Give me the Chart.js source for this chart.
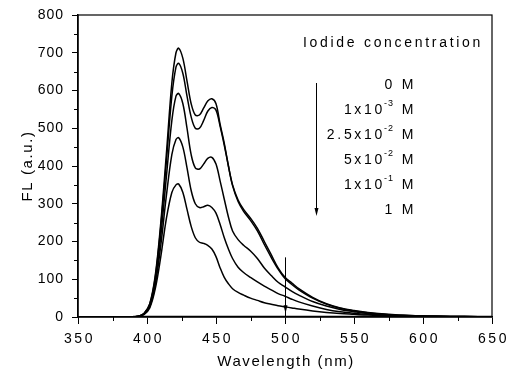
<!DOCTYPE html>
<html>
<head>
<meta charset="utf-8">
<script src="https://cdn.jsdelivr.net/npm/chart.js@4/dist/chart.umd.min.js"></script>
<style>
html,body{margin:0;padding:0;background:#fff;}
canvas{display:block;}
</style>
</head>
<body>
<canvas id="c" width="508" height="377"></canvas>
<script>
// Wavelength sample points (nm)
const wavelengths = [390,394,398,402,406,410,414,418,421,423,426,429,432,435,438,441,444,447,450,453,456,459,462,466,470,475,480,485,490,495,500,505,510,520,530,540,550,560,575,590,610,630,650];

// FL intensity (a.u.) per iodide concentration
const fl_0M      = [0,2,10,35,110,250,430,620,700,712,685,625,565,535,535,553,572,578,565,510,460,400,350,310,285,262,235,200,165,130,105,90,75,52,35,24,17,12,7,4,2,1,0];
const fl_1e3M    = [0,2,10,34,105,240,410,585,662,672,645,585,530,500,500,520,545,555,548,505,455,400,348,306,280,256,228,192,158,127,102,86,72,50,34,23,16,11,6,4,2,1,0];
const fl_2_5e2M  = [0,2,9,30,95,215,370,520,585,592,565,500,430,395,392,405,420,423,405,360,312,265,228,205,190,175,155,130,110,92,80,68,58,41,29,20,14,9,5,3,2,1,0];
const fl_5e2M    = [0,2,8,27,85,190,320,430,470,475,450,395,335,300,290,292,296,290,275,245,210,180,155,132,118,105,93,82,72,62,55,47,40,29,20,14,10,7,4,2,1,0,0];
const fl_1e1M    = [0,2,7,24,75,160,260,330,350,352,330,285,240,210,198,195,190,180,160,130,105,88,75,65,58,50,44,38,34,30,27,24,21,16,12,9,7,5,3,2,1,0,0];
const fl_1M      = [0,0,0,0,0,0,0,0,0,0,0,0,0,0,0,0,0,0,0,0,0,0,0,0,0,0,0,0,0,0,0,0,0,0,0,0,0,0,0,0,0,0,0];

const seriesNames = ['0 M','1x10^-3 M','2.5x10^-2 M','5x10^-2 M','1x10^-1 M','1 M'];
const seriesValues = [fl_0M, fl_1e3M, fl_2_5e2M, fl_5e2M, fl_1e1M, fl_1M];

// Axis ticks
const xTicks = [350,400,450,500,550,600,650];
const xMinorTicks = [375,425,475,525,575,625];
const yTicks = [0,100,200,300,400,500,600,700,800];
const yMinorTicks = [50,150,250,350,450,550,650,750];

// Texts
const xTitle = 'Wavelength (nm)';
const yTitle = 'FL (a.u.)';
const legendTitle = 'Iodide concentration';
const legendBase = ['0','1x10','2.5x10','5x10','1x10','1'];
const legendExp  = ['','-3','-2','-2','-1',''];
const legendUnit = ' M';

// Arrow annotation at 500 nm
const arrowX = 500, arrowFrom = 158, arrowTo = 15;

const FONT = '"Liberation Sans", Arial, Helvetica, sans-serif';

const datasets = seriesValues.map((vals, i) => ({
  label: seriesNames[i],
  data: wavelengths.map((w, j) => ({x: w, y: vals[j]})),
  borderColor: '#000',
  borderWidth: i === 5 ? 2.5 : 1.5,
  pointRadius: 0,
  tension: 0.35,
  fill: false
}));

const deco = {
  id: 'deco',
  afterDraw(chart) {
    const {ctx, chartArea: a, scales: {x, y}} = chart;
    ctx.save();
    ctx.strokeStyle = '#000';
    ctx.fillStyle = '#000';
    // frame
    ctx.lineWidth = 1.2;
    ctx.strokeRect(a.left, a.top, a.right - a.left, a.bottom - a.top);
    // minor ticks
    ctx.lineWidth = 1;
    ctx.beginPath();
    yMinorTicks.forEach(v => {
      const py = Math.round(y.getPixelForValue(v)) + 0.5;
      ctx.moveTo(a.left - 4, py); ctx.lineTo(a.left, py);
    });
    xMinorTicks.forEach(v => {
      const px = Math.round(x.getPixelForValue(v)) + 0.5;
      ctx.moveTo(px, a.bottom); ctx.lineTo(px, a.bottom + 4);
    });
    ctx.stroke();

    // tick labels
    ctx.textBaseline = 'middle';
    ctx.font = '14px ' + FONT;
    ctx.letterSpacing = '1px';
    ctx.textAlign = 'right';
    yTicks.forEach(v => ctx.fillText(String(v), 64, y.getPixelForValue(v)));
    ctx.letterSpacing = '2.5px';
    ctx.textAlign = 'center';
    xTicks.forEach(v => ctx.fillText(String(v), x.getPixelForValue(v) + 1.5, 339));

    // axis titles
    ctx.font = '15px ' + FONT;
    ctx.letterSpacing = '1.6px';
    ctx.textAlign = 'center';
    ctx.fillText(xTitle, (a.left + a.right) / 2 + 1, 362);
    ctx.save();
    ctx.translate(28, (a.top + a.bottom) / 2);
    ctx.rotate(-Math.PI / 2);
    ctx.fillText(yTitle, 0, 0);
    ctx.restore();

    // legend
    ctx.font = '14px ' + FONT;
    ctx.letterSpacing = '2.7px';
    ctx.textAlign = 'left';
    ctx.fillText(legendTitle, 303, 43);
    const rightEdge = 416;
    legendBase.forEach((b, i) => {
      const yy = 85 + 25 * i;
      ctx.font = '14px ' + FONT;
      ctx.letterSpacing = '2.7px';
      const wb = ctx.measureText(b).width;
      const wu = ctx.measureText(legendUnit).width;
      ctx.font = '9px ' + FONT;
      ctx.letterSpacing = '1px';
      const we = legendExp[i] ? ctx.measureText(legendExp[i]).width : 0;
      let sx = rightEdge - wb - we - wu;
      ctx.font = '14px ' + FONT;
      ctx.letterSpacing = '2.7px';
      ctx.fillText(b, sx, yy);
      if (legendExp[i]) {
        ctx.font = '9px ' + FONT;
        ctx.letterSpacing = '1px';
        ctx.fillText(legendExp[i], sx + wb - 1, yy - 6);
      }
      ctx.font = '14px ' + FONT;
      ctx.letterSpacing = '2.7px';
      ctx.fillText(legendUnit, sx + wb + we, yy);
    });

    // legend arrow
    ctx.lineWidth = 1;
    ctx.beginPath();
    ctx.moveTo(316.5, 83); ctx.lineTo(316.5, 213);
    ctx.stroke();
    ctx.beginPath();
    ctx.moveTo(316.5, 216); ctx.lineTo(314.5, 208); ctx.lineTo(318.5, 208); ctx.closePath();
    ctx.fill();

    // arrow at 500 nm
    const ax = Math.round(x.getPixelForValue(arrowX)) + 0.5;
    ctx.beginPath();
    ctx.moveTo(ax, y.getPixelForValue(arrowFrom));
    ctx.lineTo(ax, a.bottom);
    ctx.stroke();
    const tip = y.getPixelForValue(arrowTo);
    ctx.beginPath();
    ctx.moveTo(ax, tip + 2); ctx.lineTo(ax - 2, tip - 6); ctx.lineTo(ax + 2, tip - 6); ctx.closePath();
    ctx.fill();
    ctx.restore();
  }
};

new Chart(document.getElementById('c'), {
  type: 'line',
  data: {datasets},
  options: {
    responsive: false,
    animation: false,
    devicePixelRatio: 1,
    layout: {padding: {top: 15, right: 16, left: 0, bottom: 0}},
    plugins: {legend: {display: false}, tooltip: {enabled: false}},
    scales: {
      x: {
        type: 'linear', min: 350, max: 650,
        afterBuildTicks: s => { s.ticks = xTicks.map(v => ({value: v})); },
        afterFit: s => { s.height = 60; },
        grid: {drawOnChartArea: false, drawTicks: true, tickLength: 7, color: '#000', lineWidth: 1},
        border: {display: true, color: '#000', width: 1.5},
        ticks: {display: false}
      },
      y: {
        type: 'linear', min: 0, max: 800,
        afterBuildTicks: s => { s.ticks = yTicks.map(v => ({value: v})); },
        afterFit: s => { s.width = 78; },
        grid: {drawOnChartArea: false, drawTicks: true, tickLength: 6, color: '#000', lineWidth: 1},
        border: {display: true, color: '#000', width: 1.5},
        ticks: {display: false}
      }
    }
  },
  plugins: [deco]
});
</script>
</body>
</html>
